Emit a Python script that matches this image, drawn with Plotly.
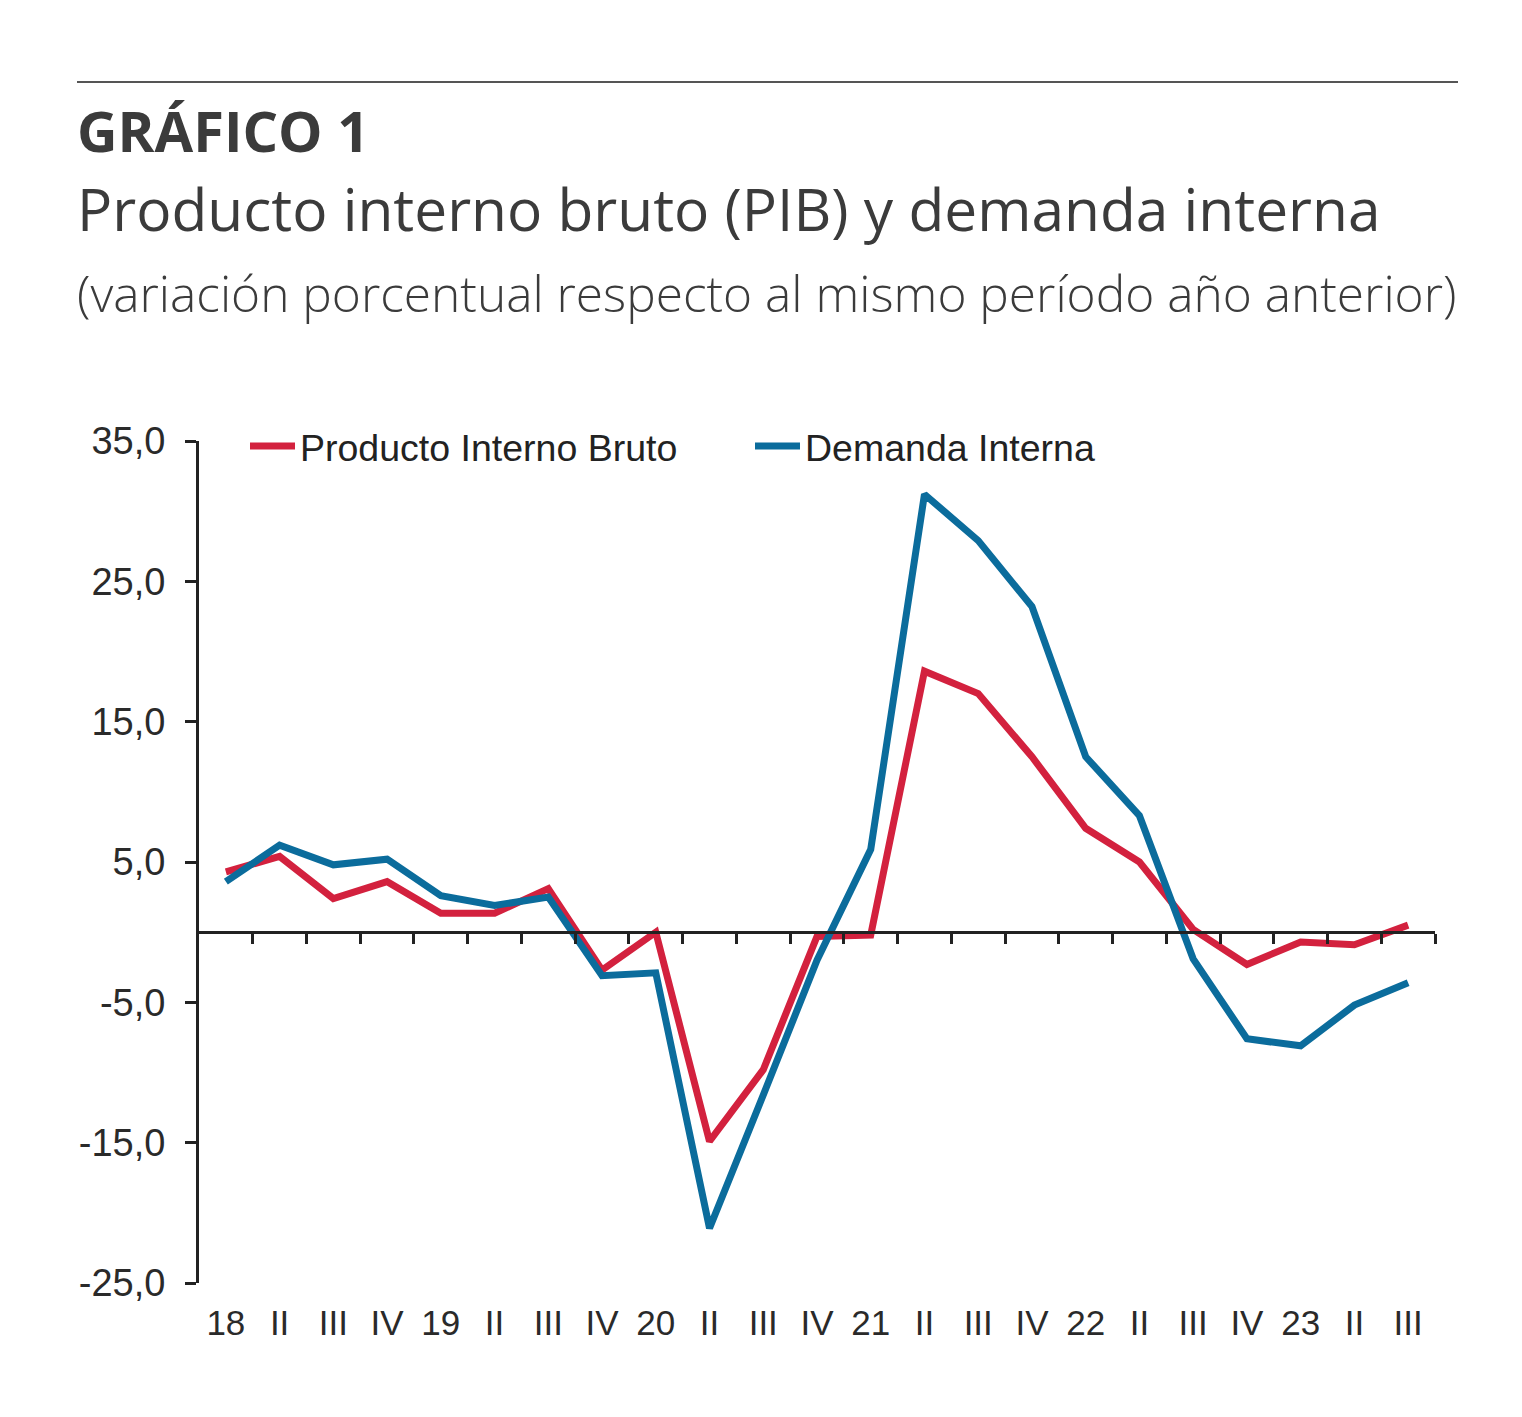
import plotly.graph_objects as go

categories = ["18", "II", "III", "IV", "19", "II", "III", "IV", "20", "II", "III", "IV",
              "21", "II", "III", "IV", "22", "II", "III", "IV", "23", "II", "III"]
pib = [4.3, 5.4, 2.4, 3.6, 1.35, 1.35, 3.1, -2.7, 0.0, -14.9, -9.8, -0.3,
       -0.2, 18.6, 17.0, 12.5, 7.4, 5.0, 0.2, -2.3, -0.7, -0.9, 0.5]
demanda = [3.6, 6.2, 4.8, 5.2, 2.6, 1.9, 2.5, -3.1, -2.9, -21.1, -11.6, -2.0,
           5.9, 31.2, 27.9, 23.2, 12.5, 8.3, -1.9, -7.6, -8.1, -5.2, -3.6]
y_ticks = [35, 25, 15, 5, -5, -15, -25]
y_tick_labels = ["35,0", "25,0", "15,0", "5,0", "-5,0", "-15,0", "-25,0"]

RED = "#D3213E"
BLUE = "#0B6C9C"
AX = "#222222"
TXT = "#3b3b3b"
SANS = "Liberation Sans, Arial, sans-serif"

# reference-pixel geometry (page body adds an 8px offset)
OFF = 8
W, H = 1522, 1417
L, R, T, B = 199, 87, 441, 134
PW, PH = W - L - R, H - T - B

def px_x(p):
    return (p - L) / PW

def px_y(p):
    return (H - B - p) / PH

x = list(range(len(categories)))

fig = go.Figure()
fig.add_trace(go.Scatter(x=x, y=pib, mode="lines", name="Producto Interno Bruto",
                         line=dict(color=RED, width=7)))
fig.add_trace(go.Scatter(x=x, y=demanda, mode="lines", name="Demanda Interna",
                         line=dict(color=BLUE, width=7)))
# helper trace so the zero-line axis is drawn
fig.add_trace(go.Scatter(x=[None], y=[None], xaxis="x2", showlegend=False, hoverinfo="skip"))

fig.update_layout(
    width=W - OFF, height=H - OFF,
    margin=dict(l=L - OFF, r=R, t=T - OFF, b=B),
    paper_bgcolor="white", plot_bgcolor="white",
    showlegend=True,
    legend=dict(orientation="h", x=px_x(245), xanchor="left", y=px_y(446), yanchor="middle",
                font=dict(family=SANS, size=37.5, color="#222222"),
                itemwidth=45, entrywidth=445, bgcolor="rgba(0,0,0,0)"),
    xaxis=dict(range=[-0.5, len(categories) - 0.5], tickmode="array", tickvals=x, ticktext=categories,
               showline=False, showgrid=False, zeroline=False, ticks="",
               tickfont=dict(family=SANS, size=35, color="#2a2a2a"), ticklabelstandoff=16),
    xaxis2=dict(overlaying="x", anchor="free", position=25 / 60,
                range=[-0.5, len(categories) - 0.5], tickmode="array",
                tickvals=[i + 0.5 for i in x], showticklabels=False,
                ticks="outside", ticklen=10, tickwidth=3, tickcolor=AX,
                showline=True, linecolor=AX, linewidth=3, showgrid=False, zeroline=False),
    yaxis=dict(range=[-25, 35], tickmode="array", tickvals=y_ticks, ticktext=y_tick_labels,
               ticks="outside", ticklen=11, tickwidth=3, tickcolor=AX,
               showline=True, linecolor=AX, linewidth=3, showgrid=False, zeroline=False,
               tickfont=dict(family=SANS, size=38, color="#2a2a2a"), ticklabelstandoff=12),
)

fig.add_shape(type="line", xref="paper", yref="paper", x0=px_x(77), x1=px_x(1458),
              y0=px_y(82), y1=px_y(82), line=dict(color="#555555", width=2))

fig.add_annotation(xref="paper", yref="paper", x=px_x(75), y=px_y(170), xanchor="left", yanchor="bottom",
                   text="GRÁFICO 1", showarrow=False,
                   font=dict(family="Open Sans, sans-serif", size=56, color=TXT, weight=700))
fig.add_annotation(xref="paper", yref="paper", x=px_x(75), y=px_y(250), xanchor="left", yanchor="bottom",
                   text="Producto interno bruto (PIB) y demanda interna", showarrow=False,
                   font=dict(family="Open Sans, sans-serif", size=58.6, color=TXT, weight=400))
fig.add_annotation(xref="paper", yref="paper", x=px_x(75), y=px_y(329), xanchor="left", yanchor="bottom",
                   text="(variación porcentual respecto al mismo período año anterior)", showarrow=False,
                   font=dict(family="Open Sans, sans-serif", size=49.6, color=TXT, weight=300))

fig.write_html("out.html")
